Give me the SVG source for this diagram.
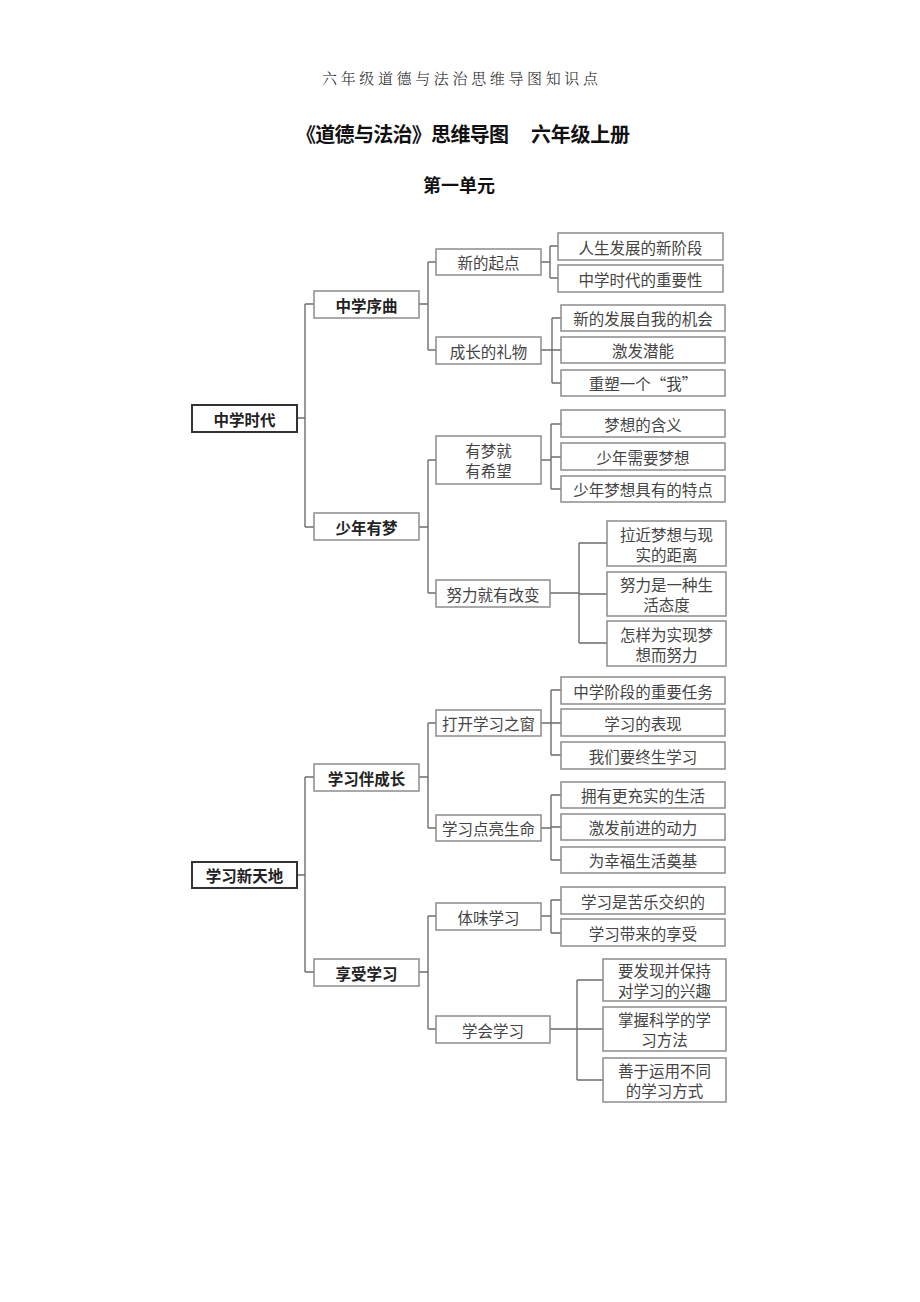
<svg xmlns="http://www.w3.org/2000/svg" width="920" height="1302" viewBox="0 0 920 1302">
<style>
.bg{fill:#fff}
.n{fill:#fff;stroke:#8c8c8c;stroke-width:1.5}
.r{fill:#fff;stroke:#333;stroke-width:2}
.t{font-family:"Noto Sans CJK SC","Noto Sans",sans-serif;font-size:15.5px;fill:#444;text-anchor:middle;dominant-baseline:central}
.b{font-weight:bold;fill:#222}
.c{fill:none;stroke:#6e6e6e;stroke-width:1.4}
.h{font-family:"Noto Serif CJK SC","Noto Sans CJK SC",serif;font-size:15px;fill:#222;font-weight:300}
.ti{font-family:"Noto Sans CJK SC",sans-serif;font-weight:bold;fill:#111}
</style>
<rect class="bg" x="0" y="0" width="920" height="1302"/>
<g id="header">
<text class="h" x="322" y="84" textLength="276" lengthAdjust="spacing">六年级道德与法治思维导图知识点</text>
<text class="ti" x="296" y="142" font-size="20" textLength="213" lengthAdjust="spacing">《道德与法治》思维导图</text>
<text class="ti" x="531" y="142" font-size="20" textLength="99" lengthAdjust="spacing">六年级上册</text>
<text class="ti" x="459" y="192" font-size="18" text-anchor="middle">第一单元</text>
</g>
<g id="connectors">
<path class="c" d="M297 418H305M305 304V527M305 304H314M305 527H314"/>
<path class="c" d="M419 304H428M428 262V350M428 262H436M428 350H436"/>
<path class="c" d="M541 262H550M550 246V278M550 246H558M550 278H558"/>
<path class="c" d="M541 350H552M552 318V383M552 318H561M552 350H561M552 383H561"/>
<path class="c" d="M419 527H428M428 460V593M428 460H436M428 593H436"/>
<path class="c" d="M541 460H551M551 424V489M551 424H561M551 457H561M551 489H561"/>
<path class="c" d="M550 593H579M579 543V643M579 543H607M579 594H607M579 643H607"/>
<path class="c" d="M297 875H305M305 777V972M305 777H314M305 972H314"/>
<path class="c" d="M419 777H428M428 723V828M428 723H436M428 828H436"/>
<path class="c" d="M541 723H551M551 690V755M551 690H561M551 723H561M551 755H561"/>
<path class="c" d="M541 828H551M551 795V860M551 795H561M551 827H561M551 860H561"/>
<path class="c" d="M419 972H428M428 916V1029M428 916H436M428 1029H436"/>
<path class="c" d="M541 916H551M551 900V933M551 900H561M551 933H561"/>
<path class="c" d="M550 1029H577M577 980V1080M577 980H603M577 1029H603M577 1080H603"/>
</g>
<g id="n-zxsd"><rect class="r" x="192" y="405" width="105" height="27"/><text class="t b" x="244.5" y="418.5">中学时代</text></g>
<g id="n-zxxq"><rect class="n" x="314" y="291" width="105" height="27"/><text class="t b" x="366.5" y="304.5">中学序曲</text></g>
<g id="n-xdqd"><rect class="n" x="436" y="249" width="105" height="26"/><text class="t" x="488.5" y="262">新的起点</text></g>
<g id="n-rsfz"><rect class="n" x="558" y="233" width="165" height="27"/><text class="t" x="640.5" y="246.5">人生发展的新阶段</text></g>
<g id="n-zxzy"><rect class="n" x="558" y="265" width="165" height="27"/><text class="t" x="640.5" y="278.5">中学时代的重要性</text></g>
<g id="n-czlw"><rect class="n" x="436" y="337" width="105" height="27"/><text class="t" x="488.5" y="350.5">成长的礼物</text></g>
<g id="n-xdfz"><rect class="n" x="561" y="305" width="164" height="26"/><text class="t" x="643" y="318">新的发展自我的机会</text></g>
<g id="n-jfqn"><rect class="n" x="561" y="337" width="164" height="26"/><text class="t" x="643" y="350">激发潜能</text></g>
<g id="n-csyg"><rect class="n" x="561" y="370" width="164" height="26"/><text class="t" x="643" y="383">重塑一个“我”</text></g>
<g id="n-snym"><rect class="n" x="314" y="513" width="105" height="27"/><text class="t b" x="366.5" y="526.5">少年有梦</text></g>
<g id="n-ymj"><rect class="n" x="436" y="436" width="105" height="48"/><text class="t" x="488.5" y="450">有梦就</text><text class="t" x="488.5" y="470">有希望</text></g>
<g id="n-mxhy"><rect class="n" x="561" y="410" width="164" height="27"/><text class="t" x="643" y="423.5">梦想的含义</text></g>
<g id="n-snxy"><rect class="n" x="561" y="443" width="164" height="27"/><text class="t" x="643" y="456.5">少年需要梦想</text></g>
<g id="n-sntd"><rect class="n" x="561" y="476" width="164" height="26"/><text class="t" x="643" y="489">少年梦想具有的特点</text></g>
<g id="n-nljy"><rect class="n" x="436" y="580" width="114" height="27"/><text class="t" x="493" y="593.5">努力就有改变</text></g>
<g id="n-ljmx"><rect class="n" x="607" y="521" width="119" height="45"/><text class="t" x="666.5" y="534">拉近梦想与现</text><text class="t" x="666.5" y="554">实的距离</text></g>
<g id="n-nlsy"><rect class="n" x="607" y="572" width="119" height="44"/><text class="t" x="666.5" y="584">努力是一种生</text><text class="t" x="666.5" y="604">活态度</text></g>
<g id="n-zywsx"><rect class="n" x="607" y="621" width="119" height="45"/><text class="t" x="666.5" y="634">怎样为实现梦</text><text class="t" x="666.5" y="654">想而努力</text></g>
<g id="n-xxxtd"><rect class="r" x="192" y="862" width="105" height="26"/><text class="t b" x="244.5" y="875">学习新天地</text></g>
<g id="n-xxbcz"><rect class="n" x="314" y="764" width="105" height="27"/><text class="t b" x="366.5" y="777.5">学习伴成长</text></g>
<g id="n-dkxx"><rect class="n" x="436" y="710" width="105" height="26"/><text class="t" x="488.5" y="723">打开学习之窗</text></g>
<g id="n-zxjd"><rect class="n" x="561" y="677" width="164" height="27"/><text class="t" x="643" y="690.5">中学阶段的重要任务</text></g>
<g id="n-xxbx"><rect class="n" x="561" y="709" width="164" height="27"/><text class="t" x="643" y="722.5">学习的表现</text></g>
<g id="n-zsxx"><rect class="n" x="561" y="742" width="164" height="27"/><text class="t" x="643" y="755.5">我们要终生学习</text></g>
<g id="n-xxdl"><rect class="n" x="436" y="815" width="105" height="26"/><text class="t" x="488.5" y="828">学习点亮生命</text></g>
<g id="n-yygc"><rect class="n" x="561" y="782" width="164" height="26"/><text class="t" x="643" y="795">拥有更充实的生活</text></g>
<g id="n-jfqj"><rect class="n" x="561" y="814" width="164" height="26"/><text class="t" x="643" y="827">激发前进的动力</text></g>
<g id="n-wxf"><rect class="n" x="561" y="847" width="164" height="26"/><text class="t" x="643" y="860">为幸福生活奠基</text></g>
<g id="n-xsxx"><rect class="n" x="314" y="959" width="105" height="27"/><text class="t b" x="366.5" y="972.5">享受学习</text></g>
<g id="n-twxx"><rect class="n" x="436" y="903" width="105" height="27"/><text class="t" x="488.5" y="916.5">体味学习</text></g>
<g id="n-klxz"><rect class="n" x="561" y="887" width="164" height="27"/><text class="t" x="643" y="900.5">学习是苦乐交织的</text></g>
<g id="n-dldxs"><rect class="n" x="561" y="919" width="164" height="27"/><text class="t" x="643" y="932.5">学习带来的享受</text></g>
<g id="n-xhxx"><rect class="n" x="436" y="1016" width="114" height="27"/><text class="t" x="493" y="1029.5">学会学习</text></g>
<g id="n-yfx"><rect class="n" x="603" y="959" width="123" height="42"/><text class="t" x="664.5" y="970">要发现并保持</text><text class="t" x="664.5" y="990">对学习的兴趣</text></g>
<g id="n-zwkx"><rect class="n" x="603" y="1007" width="123" height="44"/><text class="t" x="664.5" y="1019">掌握科学的学</text><text class="t" x="664.5" y="1039">习方法</text></g>
<g id="n-syyy"><rect class="n" x="603" y="1058" width="123" height="44"/><text class="t" x="664.5" y="1070">善于运用不同</text><text class="t" x="664.5" y="1090">的学习方式</text></g>
</svg>
